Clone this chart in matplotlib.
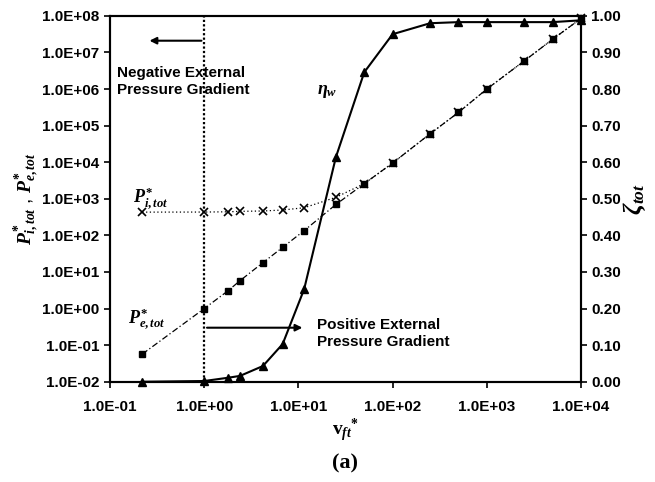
import numpy as np
import matplotlib
matplotlib.use('Agg')
import matplotlib.pyplot as plt
from matplotlib.ticker import FixedLocator, FuncFormatter

plt.rcParams['font.family'] = ['Liberation Sans', 'DejaVu Sans']
plt.rcParams['font.weight'] = 'bold'
plt.rcParams['mathtext.fontset'] = 'custom'
plt.rcParams['mathtext.it'] = 'Liberation Serif:italic:bold'
plt.rcParams['mathtext.rm'] = 'Liberation Serif:bold'
plt.rcParams['mathtext.bf'] = 'Liberation Serif:bold'

#data
v_ft = [0.22, 1.0, 1.8, 2.4, 4.2, 6.8, 11.5, 25, 50, 100, 250, 500, 1000, 2500, 5000, 10000]
P_e_tot = [0.057, 1.0, 3.1, 5.8, 18, 47, 135, 700, 2600, 9500, 6.0e4, 2.3e5, 1.0e6, 5.9e6, 2.3e7, 8.5e7]
P_i_tot = [433, 435, 442, 455, 465, 495, 570, 1100, 2600, 9500, 6.0e4, 2.3e5, 1.0e6, 5.9e6, 2.3e7, 8.5e7]
eta_w = [0.0, 0.002, 0.011, 0.016, 0.043, 0.103, 0.253, 0.614, 0.846, 0.95, 0.98, 0.983, 0.983, 0.983, 0.983, 0.988]

x_ticks = [1e-1, 1e0, 1e1, 1e2, 1e3, 1e4]
y_ticks = [1e-2, 1e-1, 1e0, 1e1, 1e2, 1e3, 1e4, 1e5, 1e6, 1e7, 1e8]
y2_ticks = [0.0, 0.1, 0.2, 0.3, 0.4, 0.5, 0.6, 0.7, 0.8, 0.9, 1.0]

def sci(v, pos=None):
    return '%.1E' % v

fig = plt.figure(figsize=(6.55, 4.82), dpi=100)
ax = fig.add_axes([0.168, 0.208, 0.719, 0.759])
ax2 = ax.twinx()

'''left axis: pressures'''
ax.plot(v_ft, P_e_tot, color='black', lw=0.9, ls=(0, (5, 2, 1, 2)),
        marker='s', ms=5, mfc='black', clip_on=False, zorder=3)
ax.plot(v_ft, P_i_tot, color='black', lw=0.9, ls=(0, (1, 2)),
        marker='x', ms=6, mew=1.2, clip_on=False, zorder=3)

ax.set_xscale('log')
ax.set_yscale('log')
ax.set_xlim(1e-1, 1e4)
ax.set_ylim(1e-2, 1e8)
ax.xaxis.set_major_locator(FixedLocator(x_ticks))
ax.yaxis.set_major_locator(FixedLocator(y_ticks))
ax.xaxis.set_minor_locator(FixedLocator([]))
ax.yaxis.set_minor_locator(FixedLocator([]))
ax.xaxis.set_major_formatter(FuncFormatter(sci))
ax.yaxis.set_major_formatter(FuncFormatter(sci))

#vertical divider at v=1
ax.axvline(1.0, color='black', lw=1.6, ls=(0, (1, 1)), zorder=2)

#arrows
ax.annotate('', xy=(0.245, 2.1e7), xytext=(1.0, 2.1e7),
            arrowprops=dict(arrowstyle='-|>', color='black', lw=1.5, mutation_scale=10))
ax.annotate('', xy=(11.8, 0.3), xytext=(1.0, 0.3),
            arrowprops=dict(arrowstyle='-|>', color='black', lw=1.5, mutation_scale=10))

ax.text(0.119, 1.58e6, 'Negative External\nPressure Gradient', fontsize=11,
        fontweight='bold', va='center', ha='left', linespacing=1.3)
ax.text(15.6, 0.207, 'Positive External\nPressure Gradient', fontsize=11,
        fontweight='bold', va='center', ha='left', linespacing=1.3)

ax.text(0.175, 1.0e3, r'$P^{*}_{i,tot}$', fontsize=13, va='center', ha='left')
ax.text(0.155, 0.5, r'$P^{*}_{e,tot}$', fontsize=13, va='center', ha='left')
ax.text(15.6, 8.7e5, r'$\eta_{w}$', fontsize=13, va='center', ha='left')

'''right axis: efficiency'''
ax2.plot(v_ft, eta_w, color='black', lw=1.5, marker='^', ms=5.5,
         mfc='black', clip_on=False, zorder=3)
ax2.set_ylim(0, 1)
ax2.yaxis.set_major_locator(FixedLocator(y2_ticks))
ax2.yaxis.set_major_formatter(FuncFormatter(lambda v, p: '%.2f' % v))

for a in (ax, ax2):
    a.tick_params(direction='out', length=4, width=1.2, labelsize=11)
    for sp in a.spines.values():
        sp.set_linewidth(1.5)
    for lab in a.get_xticklabels() + a.get_yticklabels():
        lab.set_fontweight('bold')
ax.tick_params(axis='x', pad=9)

ax.set_ylabel(r'$P^{*}_{i,tot}$ , $P^{*}_{e,tot}$', fontsize=14, labelpad=0)
ax2.set_ylabel(r'$\zeta_{tot}$', fontsize=18, labelpad=0)
ax.set_xlabel(r'$\mathbf{v}_{ft}{}^{*}$', fontsize=14, labelpad=2)

fig.text(0.527, 0.039, '(a)', fontsize=16, fontweight='bold', ha='center', va='center',
         family='Liberation Serif')

plt.savefig('out.png', dpi=100)
plt.close()
